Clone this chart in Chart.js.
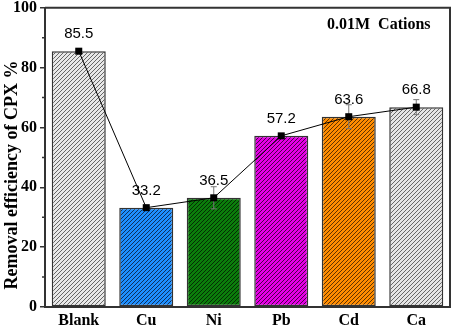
<!DOCTYPE html>
<html lang="en">
<head>
    <meta charset="UTF-8">
    <title>Removal efficiency of CPX</title>
    <script src="https://cdn.jsdelivr.net/npm/chart.js"></script>
    <style>
        body {
            margin: 0;
            background-color: #fff;
        }
        canvas {
            display: block;
        }
    </style>
</head>
<body>
<canvas id="cpxChart" width="454" height="331"></canvas>

<script>
    // Data
    const categories = ['Blank', 'Cu', 'Ni', 'Pb', 'Cd', 'Ca'];
    const removal = [85.5, 33.2, 36.5, 57.2, 63.6, 66.8];
    const errors = [0.4, 0.5, 3.7, 0.5, 4.0, 2.5];
    const minorTicks = [10, 30, 50, 70, 90];
    const fillColors = ['#e8e8e8', '#1e8fff', '#0b7d0b', '#e600e6', '#ff8c00', '#e4e4e4'];
    const hatchColors = ['#666', '#0f2f5a', '#042c04', '#4a004a', '#5e3200', '#666'];

    // Diagonal hatch pattern "////"
    function makeHatch(fill, line) {
        const size = 4;
        const c = document.createElement('canvas');
        c.width = size;
        c.height = size;
        const g = c.getContext('2d');
        g.fillStyle = fill;
        g.fillRect(0, 0, size, size);
        g.strokeStyle = line;
        g.lineWidth = 1;
        g.beginPath();
        g.moveTo(0, size);
        g.lineTo(size, 0);
        g.moveTo(-1, 1);
        g.lineTo(1, -1);
        g.moveTo(size - 1, size + 1);
        g.lineTo(size + 1, size - 1);
        g.stroke();
        return g.createPattern(c, 'repeat');
    }
    const patterns = fillColors.map((f, i) => makeHatch(f, hatchColors[i]));

    // Error bars, value labels, frame, minor ticks, axis title and annotation
    const extras = {
        id: 'extras',
        afterDatasetsDraw(chart) {
            const ctx = chart.ctx;
            const x = chart.scales.x;
            const y = chart.scales.y;
            const area = chart.chartArea;

            // error bars
            ctx.save();
            ctx.strokeStyle = '#777';
            ctx.lineWidth = 1;
            removal.forEach((v, i) => {
                const px = x.getPixelForValue(i);
                const top = y.getPixelForValue(v + errors[i]);
                const bot = y.getPixelForValue(v - errors[i]);
                ctx.beginPath();
                ctx.moveTo(px, top);
                ctx.lineTo(px, bot);
                ctx.moveTo(px - 3, top);
                ctx.lineTo(px + 3, top);
                ctx.moveTo(px - 3, bot);
                ctx.lineTo(px + 3, bot);
                ctx.stroke();
            });
            ctx.restore();

            // redraw line points on top
            const meta = chart.getDatasetMeta(1);
            ctx.save();
            ctx.fillStyle = '#000';
            meta.data.forEach(p => {
                ctx.fillRect(p.x - 3.5, p.y - 3.5, 7, 7);
            });
            ctx.restore();

            // value labels
            ctx.save();
            ctx.fillStyle = '#000';
            ctx.font = '15px "Liberation Sans", Arial, sans-serif';
            ctx.textAlign = 'center';
            ctx.textBaseline = 'middle';
            removal.forEach((v, i) => {
                const px = x.getPixelForValue(i);
                const py = y.getPixelForValue(v);
                ctx.fillText(v.toFixed(1), px, py - 17);
            });
            ctx.restore();

            // frame (top and right)
            ctx.save();
            ctx.strokeStyle = '#333';
            ctx.lineWidth = 2;
            ctx.beginPath();
            ctx.moveTo(area.left, area.top);
            ctx.lineTo(area.right, area.top);
            ctx.lineTo(area.right, area.bottom);
            ctx.stroke();

            // minor ticks
            ctx.lineWidth = 1.5;
            ctx.beginPath();
            minorTicks.forEach(v => {
                const py = y.getPixelForValue(v);
                ctx.moveTo(area.left - 3, py);
                ctx.lineTo(area.left, py);
            });
            ctx.stroke();
            ctx.restore();

            // y axis title
            ctx.save();
            ctx.fillStyle = '#000';
            ctx.font = 'bold 18px "Liberation Serif", "Times New Roman", serif';
            ctx.textAlign = 'center';
            ctx.textBaseline = 'middle';
            ctx.translate(12, 175);
            ctx.rotate(-Math.PI / 2);
            ctx.fillText('Removal efficiency of CPX %', 0, 0);
            ctx.restore();

            // annotation
            ctx.save();
            ctx.fillStyle = '#000';
            ctx.font = 'bold 16px "Liberation Serif", "Times New Roman", serif';
            ctx.textAlign = 'left';
            ctx.textBaseline = 'middle';
            ctx.fillText('0.01M  Cations', 327, 25);
            ctx.restore();
        }
    };

    new Chart(document.getElementById('cpxChart').getContext('2d'), {
        data: {
            labels: categories,
            datasets: [{
                type: 'bar',
                data: removal,
                backgroundColor: patterns,
                borderColor: '#333',
                borderWidth: 1.5,
                borderSkipped: false,
                categoryPercentage: 0.8,
                barPercentage: 1.0,
                order: 2
            }, {
                type: 'line',
                data: removal,
                borderColor: '#000',
                borderWidth: 1,
                backgroundColor: '#000',
                pointStyle: 'rect',
                pointRadius: 3.5,
                pointBorderWidth: 0,
                order: 1
            }]
        },
        options: {
            responsive: false,
            animation: false,
            layout: {
                padding: { top: 7, right: 2, left: 0, bottom: 0 }
            },
            plugins: {
                legend: { display: false },
                tooltip: { enabled: false }
            },
            scales: {
                x: {
                    afterFit(scale) { scale.height = 24; },
                    grid: { display: false, drawTicks: false },
                    border: { display: true, color: '#333', width: 2 },
                    ticks: {
                        color: '#000',
                        padding: 6,
                        maxRotation: 0,
                        autoSkip: false,
                        font: { family: '"Liberation Serif", "Times New Roman", serif', size: 16, weight: 'bold', lineHeight: 1 }
                    }
                },
                y: {
                    min: 0,
                    max: 100,
                    afterFit(scale) { scale.width = 45; },
                    grid: {
                        drawOnChartArea: false,
                        drawTicks: true,
                        tickLength: 5,
                        color: '#333',
                        lineWidth: 1.5
                    },
                    border: { display: true, color: '#333', width: 2 },
                    ticks: {
                        stepSize: 20,
                        color: '#000',
                        padding: 3,
                        font: { family: '"Liberation Serif", "Times New Roman", serif', size: 16, weight: 'bold', lineHeight: 0.6 }
                    }
                }
            }
        },
        plugins: [extras]
    });
</script>
</body>
</html>
